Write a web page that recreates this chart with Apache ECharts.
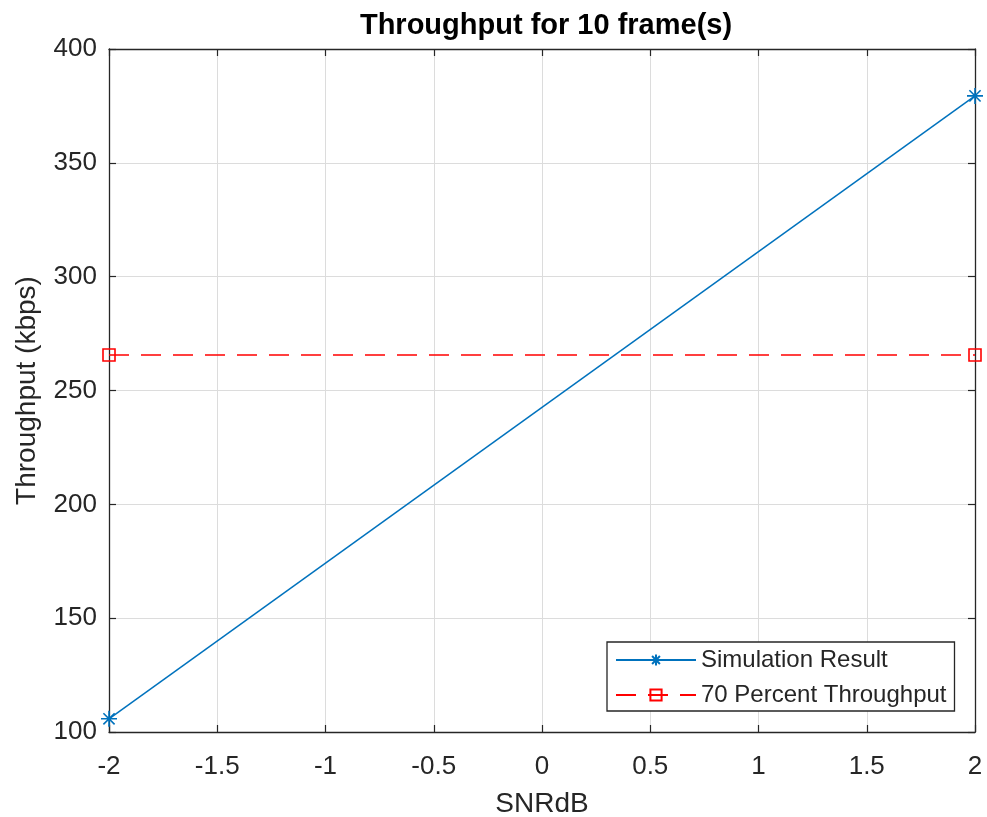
<!DOCTYPE html>
<html><head><meta charset="utf-8">
<script src="https://cdn.jsdelivr.net/npm/echarts@6/dist/echarts.min.js"></script>
<style>html,body{margin:0;padding:0;background:#fff}#c{width:987px;height:817px}</style>
</head><body><div id="c"></div>
<script>
const snrDb = [-2, 2];
const simulationResult = [105.8, 379.4];
const percent70 = [265.6, 265.6];
const xTicks = [-2, -1.5, -1, -0.5, 0, 0.5, 1, 1.5, 2];
const yTicks = [100, 150, 200, 250, 300, 350, 400];

const FONT = '"Liberation Sans", Arial, sans-serif';
const asterisk = 'path://M0,-10L0,10M-10,0L10,0M-7,-7L7,7M-7,7L7,-7';
const chart = echarts.init(document.getElementById('c'));
const grid = {left: 109, right: 12, top: 49, bottom: 85, containLabel: false, outerBoundsMode: 'none'};
const axisBase = {
  axisLine: {show: true, onZero: false, lineStyle: {color: '#262626', width: 1.3}},
  axisTick: {show: true, inside: true, length: 7, lineStyle: {color: '#262626', width: 1.2}},
};
chart.setOption({
  animation: false,
  title: {text: 'Throughput for 10 frame(s)', left: 541, top: 6, textAlign: 'center',
    textStyle: {fontFamily: FONT, fontWeight: 'bold', fontSize: 29, color: '#000'}},
  grid: grid,
  legend: {
    left: 607, top: 642, orient: 'vertical', itemWidth: 80, itemHeight: 14, itemGap: 11,
    padding: [6, 8, 4, 8], backgroundColor: '#fff', borderColor: '#262626', borderWidth: 1.3,
    borderRadius: 0,
    textStyle: {fontFamily: FONT, fontSize: 24, color: '#262626'},
    data: ['Simulation Result', '70 Percent Throughput']
  },
  xAxis: [
    Object.assign({type: 'value', min: -2, max: 2, interval: 0.5, position: 'bottom',
      name: 'SNRdB', nameLocation: 'middle', nameGap: 58,
      nameTextStyle: {fontFamily: FONT, fontSize: 28, color: '#262626'},
      axisLabel: {fontFamily: FONT, fontSize: 26, color: '#262626', margin: 22,
        formatter: v => String(v)},
      splitLine: {show: true, lineStyle: {color: '#dcdcdc', width: 1}}}, axisBase),
    Object.assign({type: 'value', min: -2, max: 2, interval: 0.5, position: 'top',
      axisLabel: {show: false}, splitLine: {show: false}}, axisBase)
  ],
  yAxis: [
    Object.assign({type: 'value', min: 100, max: 400, interval: 50, position: 'left',
      name: 'Throughput (kbps)', nameLocation: 'middle', nameGap: 68,
      nameTextStyle: {fontFamily: FONT, fontSize: 28, color: '#262626'},
      axisLabel: {fontFamily: FONT, fontSize: 26, color: '#262626', margin: 12},
      splitLine: {show: true, lineStyle: {color: '#dcdcdc', width: 1}}}, axisBase),
    Object.assign({type: 'value', min: 100, max: 400, interval: 50, position: 'right',
      axisLabel: {show: false}, splitLine: {show: false}}, axisBase)
  ],
  series: [
    {name: 'Simulation Result', type: 'line', xAxisIndex: 0, yAxisIndex: 0,
      data: snrDb.map((x, i) => [x, simulationResult[i]]),
      symbol: asterisk, symbolSize: 16, showAllSymbol: true,
      lineStyle: {color: '#0072BD', width: 1.5},
      itemStyle: {color: '#0072BD', borderColor: '#0072BD', borderWidth: 1.6}},
    {name: '70 Percent Throughput', type: 'line', xAxisIndex: 0, yAxisIndex: 0,
      data: snrDb.map((x, i) => [x, percent70[i]]),
      symbol: 'rect', symbolSize: 12,
      lineStyle: {color: '#FF0000', width: 1.6, type: [20, 12]},
      itemStyle: {color: 'rgba(0,0,0,0)', borderColor: '#FF0000', borderWidth: 1.6}}
  ]
});
</script></body></html>
